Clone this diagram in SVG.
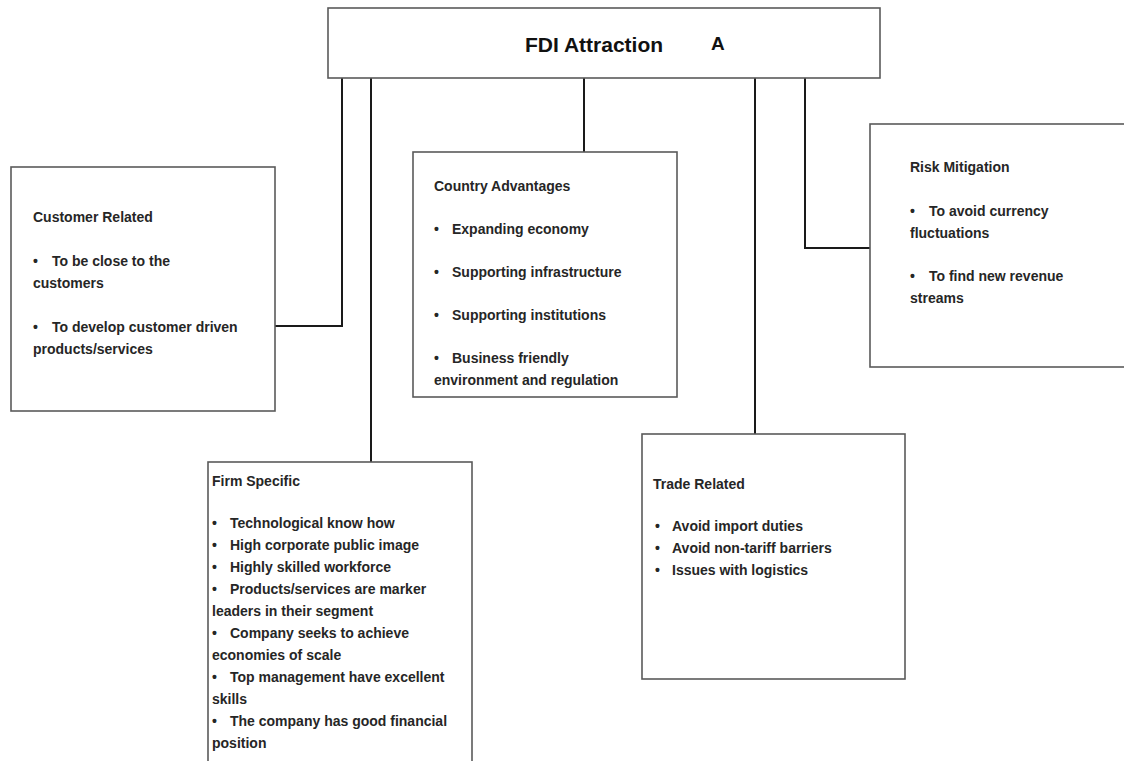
<svg xmlns="http://www.w3.org/2000/svg" width="1124" height="761" viewBox="0 0 1124 761">
  <style>
    .box { fill: #ffffff; stroke: #5a5a5a; stroke-width: 1.6; }
    .link { fill: none; stroke: #1a1a1a; stroke-width: 2; }
    .t { font-family: "Liberation Sans", Arial, sans-serif; font-weight: bold; font-size: 14px; fill: #262626; }
    .head { font-family: "Liberation Sans", Arial, sans-serif; font-weight: bold; font-size: 21px; fill: #111111; }
  </style>
  <rect width="1124" height="761" fill="#ffffff"/>

  <!-- connectors from the top box -->
  <g id="connectors">
    <polyline class="link" points="342,78 342,326 275,326"/>
    <polyline class="link" points="371,78 371,462"/>
    <polyline class="link" points="584,78 584,152"/>
    <polyline class="link" points="755,78 755,434"/>
    <polyline class="link" points="805,78 805,248 870,248"/>
  </g>

  <g id="fdi-attraction">
    <rect class="box" x="328" y="8" width="552" height="70"/>
    <text class="head" x="525" y="52">FDI Attraction</text>
    <text class="head" x="711" y="50" style="font-size:19px">A</text>
  </g>

  <g id="customer-related">
    <rect class="box" x="11" y="167" width="264" height="244"/>
    <text class="t" x="33" y="222">Customer Related</text>
    <text class="t" y="266"><tspan x="33">•</tspan><tspan x="52">To be close to the</tspan></text>
    <text class="t" x="33" y="288">customers</text>
    <text class="t" y="332"><tspan x="33">•</tspan><tspan x="52">To develop customer driven</tspan></text>
    <text class="t" x="33" y="354">products/services</text>
  </g>

  <g id="country-advantages">
    <rect class="box" x="413" y="152" width="264" height="245"/>
    <text class="t" x="434" y="191">Country Advantages</text>
    <text class="t" y="234"><tspan x="434">•</tspan><tspan x="452">Expanding economy</tspan></text>
    <text class="t" y="277"><tspan x="434">•</tspan><tspan x="452">Supporting infrastructure</tspan></text>
    <text class="t" y="320"><tspan x="434">•</tspan><tspan x="452">Supporting institutions</tspan></text>
    <text class="t" y="363"><tspan x="434">•</tspan><tspan x="452">Business friendly</tspan></text>
    <text class="t" x="434" y="385">environment and regulation</text>
  </g>

  <g id="risk-mitigation">
    <rect class="box" x="870" y="124" width="262" height="243"/>
    <text class="t" x="910" y="172">Risk Mitigation</text>
    <text class="t" y="216"><tspan x="910">•</tspan><tspan x="929">To avoid currency</tspan></text>
    <text class="t" x="910" y="238">fluctuations</text>
    <text class="t" y="281"><tspan x="910">•</tspan><tspan x="929">To find new revenue</tspan></text>
    <text class="t" x="910" y="303">streams</text>
  </g>

  <g id="firm-specific">
    <rect class="box" x="208" y="462" width="264" height="310"/>
    <text class="t" x="212" y="486">Firm Specific</text>
    <text class="t" y="528"><tspan x="212">•</tspan><tspan x="230">Technological know how</tspan></text>
    <text class="t" y="550"><tspan x="212">•</tspan><tspan x="230">High corporate public image</tspan></text>
    <text class="t" y="572"><tspan x="212">•</tspan><tspan x="230">Highly skilled workforce</tspan></text>
    <text class="t" y="594"><tspan x="212">•</tspan><tspan x="230">Products/services are marker</tspan></text>
    <text class="t" x="212" y="616">leaders in their segment</text>
    <text class="t" y="638"><tspan x="212">•</tspan><tspan x="230">Company seeks to achieve</tspan></text>
    <text class="t" x="212" y="660">economies of scale</text>
    <text class="t" y="682"><tspan x="212">•</tspan><tspan x="230">Top management have excellent</tspan></text>
    <text class="t" x="212" y="704">skills</text>
    <text class="t" y="726"><tspan x="212">•</tspan><tspan x="230">The company has good financial</tspan></text>
    <text class="t" x="212" y="748">position</text>
  </g>

  <g id="trade-related">
    <rect class="box" x="642" y="434" width="263" height="245"/>
    <text class="t" x="653" y="489">Trade Related</text>
    <text class="t" y="531"><tspan x="655">•</tspan><tspan x="672">Avoid import duties</tspan></text>
    <text class="t" y="553"><tspan x="655">•</tspan><tspan x="672">Avoid non-tariff barriers</tspan></text>
    <text class="t" y="575"><tspan x="655">•</tspan><tspan x="672">Issues with logistics</tspan></text>
  </g>
</svg>
